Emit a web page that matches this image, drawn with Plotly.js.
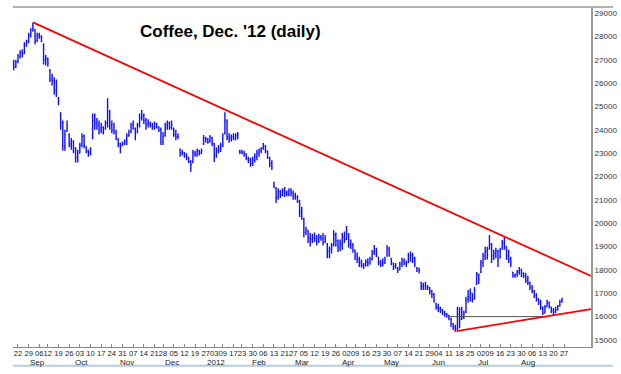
<!DOCTYPE html>
<html>
<head>
<meta charset="utf-8">
<script src="https://cdn.plot.ly/plotly-3.0.1.min.js"></script>
<style>
html,body{margin:0;padding:0;background:#fff;}
#chart{width:621px;height:374px;}
</style>
</head>
<body>
<div id="chart"></div>
<script>
// ---- Data (daily OHLC, Coffee Dec '12, from 18 Aug 2011 to 24 Aug 2012) ----
const highs = [
27000,27000,27250,27400,27450,27750,27850,28150,28350,28580,
28300,28150,28150,28050,27700,27200,27100,26600,26400,26250,
26150,25400,24750,24400,24000,24400,23850,23650,23550,23250,
23150,23450,23850,23800,23300,23150,23250,24700,24700,24500,
24400,24300,24150,24400,25350,24850,24400,24300,24000,23650,
23450,23500,23600,23850,24000,24300,24400,24100,24300,24700,
24850,24700,24500,24450,24350,24300,24350,24300,24150,24100,
23900,24300,24400,24350,24400,24100,24000,23850,23200,23150,
23050,23000,22850,22700,23150,23100,23200,23150,23200,23780,
23700,23650,23780,23700,23450,23250,23350,23450,23850,24750,
24450,23850,23800,23850,23850,23900,23150,23150,23100,23000,
22850,22800,22850,23000,23150,23200,23250,23430,23350,23100,
22850,22700,21770,21550,21500,21420,21500,21550,21400,21500,
21500,21400,21300,21200,21000,20700,20230,19850,19700,19580,
19550,19600,19500,19550,19500,19580,19500,19150,19000,19150,
19700,19600,19300,19300,19580,19650,19880,19580,19300,19150,
18860,18750,18560,18450,18300,18450,18500,18560,18850,19070,
18950,18560,18430,18500,18560,19070,18990,18500,18300,18300,
18130,18350,18520,18500,18400,18730,18800,18730,18560,18130,
18100,17490,17450,17490,17350,17270,17140,17010,16590,16550,
16420,16330,16250,16160,16070,15950,15730,15650,16420,16400,
16420,16250,16850,17140,17200,17000,17270,17910,17850,18430,
18730,18990,18990,19500,19150,18860,18950,18860,18950,19280,
19400,19000,18860,18560,17910,17850,18000,18130,18050,17900,
17870,17750,17490,17350,17140,17000,16800,16720,16420,16500,
16720,16650,16420,16370,16420,16500,16720,16800
];
const lows = [
26550,26650,26850,27050,27100,27250,27550,27700,27950,28200,
27650,27750,27900,27750,26800,26750,26700,26050,25900,25500,
25400,25050,24000,23100,23100,23900,23250,23150,23000,22600,
22600,23000,23250,23200,23000,22850,22900,23600,24000,24000,
23800,23850,23800,24000,24100,24000,23850,23800,23550,23250,
23000,23300,23350,23350,23700,23850,24000,23550,23850,24100,
24400,24250,24000,24100,24100,24000,24000,24050,23900,23350,
23350,23700,24000,24000,24000,23700,23550,23600,22850,22900,
22800,22700,22580,22200,22580,22850,22850,22900,22950,23350,
23450,23400,23450,23300,22620,22800,23000,23050,23250,23800,
23550,23450,23500,23550,23550,23600,22950,22950,22850,22700,
22580,22420,22450,22600,22700,22850,23000,23150,23000,22750,
22400,22280,21500,20870,21000,21080,21150,21120,21150,21150,
21150,21000,21000,20870,20270,20150,19400,19500,19150,19000,
19150,19200,19050,19150,19250,19050,19150,18500,18500,18700,
19000,19000,18770,18800,18860,19150,19280,18950,18900,18730,
18430,18300,18130,18100,18040,18150,18150,18220,18400,18640,
18550,18200,18130,18150,18250,18560,18560,18200,18000,18050,
17870,18000,18130,18200,18130,18300,18350,18300,18130,17910,
17850,17140,17140,17140,17140,16950,16800,16590,16290,16200,
16160,16070,16000,15950,15850,15560,15430,15350,15430,15500,
15860,15900,16160,16590,16650,16600,16720,17350,17400,17870,
18130,18430,18450,18860,18300,18430,18500,18130,18500,18860,
18860,18430,18300,18130,17660,17660,17700,17790,17700,17650,
17440,17350,17140,17000,16800,16650,16500,16290,16070,16150,
16420,16350,16160,16070,16150,16250,16420,16590
];
const opens = [
26900,26700,26900,27150,27300,27250,27650,27800,28050,28300,
28300,27800,28050,28000,27600,27000,27050,26550,26200,26100,
25700,25350,24700,24300,23300,23950,23800,23400,23500,23200,
22800,23000,23350,23700,23300,23100,23000,23650,24400,24300,
24200,24000,24100,24050,24300,24800,24200,24000,23900,23600,
23400,23350,23400,23500,23750,23900,24200,24050,23900,24200,
24500,24600,24400,24250,24300,24200,24100,24250,24100,24000,
23500,23750,24200,24300,24100,24050,23800,23700,23150,23000,
23000,22900,22800,22650,22600,23000,22950,23100,23000,23400,
23650,23600,23500,23650,23400,22900,23100,23200,23350,23850,
24400,23700,23650,23700,23650,23750,23100,23050,23000,22950,
22800,22700,22550,22700,22850,23000,23100,23200,23300,23100,
22800,22550,21750,21500,21100,21350,21200,21400,21300,21250,
21400,21300,21150,21100,20950,20500,20200,19600,19700,19350,
19300,19400,19350,19200,19400,19350,19200,19100,18800,18900,
19050,19500,19250,19000,19100,19400,19300,19550,19100,19050,
18850,18600,18450,18300,18200,18200,18350,18300,18450,18750,
18900,18550,18300,18250,18300,18600,18900,18500,18300,18150,
18100,18000,18250,18400,18300,18300,18600,18650,18500,18100,
18000,17450,17300,17350,17250,17250,17100,16950,16550,16400,
16350,16300,16200,16100,16050,15900,15700,15550,15500,16100,
15900,16000,16200,16750,16850,17000,16750,17400,17800,17900,
18300,18600,18800,18900,19100,18600,18700,18800,18500,18900,
19150,19000,18600,18450,17900,17750,17800,17900,18000,17850,
17750,17550,17450,17250,17100,16900,16750,16600,16400,16150,
16420,16600,16420,16250,16200,16300,16450,16650
];
const closes = [
26700,26900,27150,27300,27250,27650,27800,28050,28300,28450,
27800,28050,28000,27800,27000,27050,26850,26200,26100,25700,
26000,25200,24300,23300,23800,24200,23400,23500,23200,22800,
23000,23350,23700,23350,23100,23000,23200,24400,24300,24200,
24000,24100,23950,24300,25000,24200,24000,23900,23700,23400,
23300,23400,23500,23750,23900,24200,24250,23800,24200,24500,
24600,24400,24250,24300,24200,24100,24250,24150,24000,23500,
23700,24200,24300,24100,24200,23800,23700,23700,23000,23050,
22900,22800,22650,22500,23000,22950,23100,23000,23100,23650,
23600,23500,23700,23400,22900,23100,23200,23350,23750,24400,
23700,23650,23700,23650,23750,23800,23050,23000,22950,22800,
22700,22550,22700,22850,23000,23100,23200,23350,23100,22850,
22550,22400,21600,21100,21350,21200,21400,21300,21250,21400,
21300,21150,21100,20950,20500,20300,19600,19700,19350,19300,
19400,19350,19200,19400,19350,19200,19300,18800,18900,19050,
19500,19250,19000,19100,19400,19300,19700,19100,19050,18850,
18600,18450,18300,18200,18200,18350,18300,18450,18750,18900,
18650,18300,18250,18300,18450,18900,18700,18300,18150,18200,
18000,18250,18400,18300,18250,18600,18650,18500,18250,18000,
17950,17300,17350,17250,17250,17100,16950,16700,16400,16350,
16300,16200,16100,16050,15950,15700,15550,15500,16100,15900,
16000,16150,16750,16850,17000,16750,17150,17800,17600,18300,
18600,18800,18650,19100,18600,18700,18800,18400,18850,19150,
19000,18600,18450,18250,17750,17800,17900,18000,17850,17750,
17550,17450,17250,17100,16900,16750,16600,16400,16150,16400,
16600,16450,16250,16200,16300,16450,16650,16780
];

// Axis labels
const weekLabels = ['22','29','06','12','19','26','03','10','17','24','31','07','14','21','28',
  '05','12','19','27','03','09','17','23','30','06','13','21','27','05','12','19','26',
  '02','09','16','23','30','07','14','21','29','04','11','18','25','02','09','16','23','30',
  '06','13','20','27'];
const monthLabels = ['Sep','Oct','Nov','Dec','2012','Feb','Mar','Apr','May','Jun','Jul','Aug'];
const priceTicks = [15000,16000,17000,18000,19000,20000,21000,22000,23000,24000,25000,26000,27000,28000,29000];

// Trend lines drawn on the chart (day index, price)
const resistX = [9, 270.6],   resistY = [28600, 17740];
const supportX = [207.5, 270.6], supportY = [15380, 16320];
const levelX = [203.6, 250],  levelY = [16000, 16000];

// ---- Trading calendar (day positions) ----
const holidays = new Set(['2011-09-05','2011-11-24','2011-12-26','2012-01-02','2012-01-16',
  '2012-02-20','2012-04-06','2012-05-28','2012-07-04','2012-09-03']);
const days = [];
for (let d = new Date(Date.UTC(2011,7,18)); d <= new Date(Date.UTC(2012,8,14)); d = new Date(d.getTime()+86400000)) {
  const wd = d.getUTCDay();
  const iso = d.toISOString().slice(0,10);
  if (wd === 0 || wd === 6 || holidays.has(iso)) continue;
  days.push(new Date(d.getTime()));
}
const xIdx = closes.map((_, i) => i);
const tickvals = [];
for (let k = 1; k < days.length && tickvals.length < weekLabels.length; k++) {
  if (days[k].getUTCDay() <= days[k-1].getUTCDay()) tickvals.push(k);
}
const monthPos = [];
for (let k = 1; k < days.length && monthPos.length < monthLabels.length; k++) {
  if (days[k].getUTCMonth() !== days[k-1].getUTCMonth()) monthPos.push(k + 1);
}

const xRange = [-0.33, 270.6];
const yRange = [14700, 29257];

const traces = [
  {
    type: 'ohlc', x: xIdx, open: opens, high: highs, low: lows, close: closes,
    increasing: {line: {color: '#1010ff', width: 1.4}},
    decreasing: {line: {color: '#1010ff', width: 1.4}},
    tickwidth: 0.4, hoverinfo: 'skip', showlegend: false
  },
  {type: 'scatter', mode: 'lines', x: levelX, y: levelY,
   line: {color: '#555555', width: 1}, hoverinfo: 'skip', showlegend: false},
  {type: 'scatter', mode: 'lines', x: resistX, y: resistY,
   line: {color: '#ff0000', width: 1.8}, hoverinfo: 'skip', showlegend: false},
  {type: 'scatter', mode: 'lines', x: supportX, y: supportY,
   line: {color: '#ff0000', width: 1.8}, hoverinfo: 'skip', showlegend: false}
];

const annotations = monthLabels.map((t, j) => ({
  text: t, x: monthPos[j], xref: 'x', y: -0.046, yref: 'paper',
  xanchor: 'center', yanchor: 'middle', showarrow: false,
  font: {family: 'Liberation Sans, Arial, sans-serif', size: 8, color: '#222'}
}));
annotations.push({
  text: "<b>Coffee, Dec. '12 (daily)</b>", x: 0.377, xref: 'paper', y: 0.929, yref: 'paper',
  xanchor: 'center', yanchor: 'middle', showarrow: false,
  font: {family: 'Liberation Sans, Arial, sans-serif', size: 17, color: '#000'}
});

const layout = {
  width: 621, height: 374,
  margin: {l: 13, r: 30, t: 7, b: 27, pad: 0},
  paper_bgcolor: '#ffffff', plot_bgcolor: '#ffffff',
  showlegend: false,
  xaxis: {
    range: xRange, tickmode: 'array', tickvals: tickvals, ticktext: weekLabels,
    tickangle: 0, showgrid: false, zeroline: false, showline: true,
    linecolor: '#888888', linewidth: 1, ticks: 'inside', ticklen: 3, tickcolor: '#888888',
    ticklabelstandoff: -1,
    tickfont: {family: 'Liberation Sans, Arial, sans-serif', size: 7.6, color: '#222'},
    rangeslider: {visible: false}, fixedrange: true
  },
  yaxis: {
    side: 'right', range: yRange, tickmode: 'array', tickvals: priceTicks,
    ticktext: priceTicks.map(String),
    showgrid: false, zeroline: false, showline: true, linecolor: '#999999', linewidth: 2,
    ticks: '', tickfont: {family: 'Liberation Sans, Arial, sans-serif', size: 8, color: '#333'},
    fixedrange: true
  },
  shapes: [
    {type: 'line', xref: 'paper', yref: 'paper', x0: 0, x1: 1.038, y0: 1, y1: 1,
     line: {color: '#999999', width: 1.5}},
    {type: 'line', xref: 'paper', yref: 'paper', x0: 0, x1: 1.038, y0: -0.055, y1: -0.055,
     line: {color: '#b0cce8', width: 2}}
  ],
  annotations: annotations
};

Plotly.newPlot('chart', traces, layout, {displayModeBar: false, staticPlot: true});
</script>
</body>
</html>
